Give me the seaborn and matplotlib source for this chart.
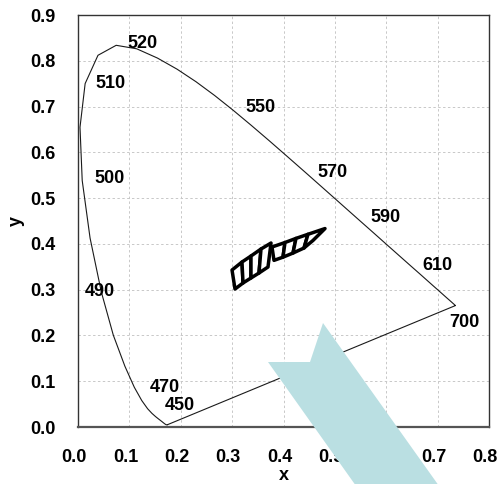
import numpy as np
import pandas as pd
import matplotlib
matplotlib.use("Agg")
import matplotlib.pyplot as plt
from matplotlib.patches import Polygon
from matplotlib.transforms import ScaledTranslation
import seaborn as sns

# CIE 1931 spectral locus (380-700 nm, 5 nm steps)
wavelengths = list(range(380, 705, 5))
locus_x = [0.1741, 0.1740, 0.1738, 0.1736, 0.1733, 0.1730, 0.1726, 0.1721, 0.1714, 0.1703,
           0.1689, 0.1669, 0.1644, 0.1611, 0.1566, 0.1510, 0.1440, 0.1355, 0.1241, 0.1096,
           0.0913, 0.0687, 0.0454, 0.0235, 0.0082, 0.0039, 0.0139, 0.0389, 0.0743, 0.1142,
           0.1547, 0.1929, 0.2296, 0.2658, 0.3016, 0.3373, 0.3731, 0.4087, 0.4441, 0.4788,
           0.5125, 0.5448, 0.5752, 0.6029, 0.6270, 0.6482, 0.6658, 0.6801, 0.6915, 0.7006,
           0.7079, 0.7140, 0.7190, 0.7230, 0.7260, 0.7283, 0.7300, 0.7311, 0.7320, 0.7327,
           0.7334, 0.7340, 0.7344, 0.7346, 0.7347]
locus_y = [0.0050, 0.0050, 0.0049, 0.0049, 0.0048, 0.0048, 0.0048, 0.0048, 0.0051, 0.0058,
           0.0069, 0.0086, 0.0109, 0.0138, 0.0177, 0.0227, 0.0297, 0.0399, 0.0578, 0.0868,
           0.1327, 0.2007, 0.2950, 0.4127, 0.5384, 0.6548, 0.7502, 0.8120, 0.8338, 0.8262,
           0.8059, 0.7816, 0.7543, 0.7243, 0.6923, 0.6589, 0.6245, 0.5896, 0.5547, 0.5202,
           0.4866, 0.4544, 0.4242, 0.3965, 0.3725, 0.3514, 0.3340, 0.3197, 0.3083, 0.2993,
           0.2920, 0.2859, 0.2809, 0.2770, 0.2740, 0.2717, 0.2700, 0.2689, 0.2680, 0.2673,
           0.2666, 0.2660, 0.2656, 0.2654, 0.2653]

# wavelength labels and where they sit
label_nm = ["520", "510", "550", "500", "570", "590", "610", "700", "490", "470", "450"]
label_x = [0.125, 0.064, 0.356, 0.062, 0.496, 0.598, 0.699, 0.753, 0.043, 0.169, 0.199]
label_y = [0.837, 0.751, 0.697, 0.542, 0.557, 0.457, 0.352, 0.229, 0.297, 0.087, 0.046]

# chromaticity bins: edges (top/bottom corner) of two chained groups
groupA_top_x = [0.2998, 0.3192, 0.3367, 0.3562, 0.3757]
groupA_top_y = [0.3429, 0.3604, 0.3735, 0.3888, 0.4019]
groupA_bot_x = [0.3056, 0.3212, 0.3367, 0.3523, 0.3698]
groupA_bot_y = [0.3014, 0.3146, 0.3255, 0.3364, 0.3495]
groupB_top_x = [0.3776, 0.4029, 0.4243, 0.4477, 0.4808]
groupB_top_y = [0.3932, 0.4030, 0.4120, 0.4210, 0.4335]
groupB_bot_x = [0.3815, 0.3990, 0.4185, 0.4399, 0.4574]
groupB_bot_y = [0.3640, 0.3710, 0.3800, 0.3910, 0.4075]

x_ticks = [0.0, 0.1, 0.2, 0.3, 0.4, 0.5, 0.6, 0.7, 0.8]
y_ticks = [0.0, 0.1, 0.2, 0.3, 0.4, 0.5, 0.6, 0.7, 0.8, 0.9]

sns.set_style("white")
plt.rcParams["font.family"] = ["Liberation Sans", "DejaVu Sans"]
plt.rcParams["font.weight"] = "bold"
plt.rcParams["text.color"] = "black"
plt.rcParams["axes.labelcolor"] = "black"
plt.rcParams["xtick.color"] = "black"
plt.rcParams["ytick.color"] = "black"

fig = plt.figure(figsize=(4.99, 4.84), dpi=100)
ax = fig.add_axes([78 / 499, 1 - 427 / 484, (489 - 78) / 499, (427 - 15) / 484])

df = pd.DataFrame({"x": locus_x + [locus_x[0]], "y": locus_y + [locus_y[0]]})
sns.lineplot(data=df, x="x", y="y", sort=False, estimator=None, color="#1a1a1a",
             linewidth=0.8, ax=ax, zorder=3)

for lab, lx, ly in zip(label_nm, label_x, label_y):
    ax.text(lx, ly, lab, ha="center", va="center", fontsize=13, fontweight="bold",
            color="black", zorder=4)

def draw_group(tx, ty, bx, by):
    for i in range(len(tx) - 1):
        pts = [(tx[i], ty[i]), (tx[i + 1], ty[i + 1]), (bx[i + 1], by[i + 1]), (bx[i], by[i])]
        ax.add_patch(Polygon(pts, closed=True, facecolor="white", edgecolor="black",
                             linewidth=2.5, joinstyle="round", zorder=5))

draw_group(groupA_top_x, groupA_top_y, groupA_bot_x, groupA_bot_y)
draw_group(groupB_top_x, groupB_top_y, groupB_bot_x, groupB_bot_y)

ax.set_xlim(0, 0.8)
ax.set_ylim(0, 0.9)
ax.set_xticks(x_ticks)
ax.set_yticks(y_ticks)
ax.set_xticklabels([f"{v:.1f}" for v in x_ticks])
ax.set_yticklabels([f"{v:.1f}" for v in y_ticks])
ax.grid(True, color="#c8c8c8", linestyle=(0, (2.5, 2.5)), linewidth=0.7, zorder=0)
ax.set_axisbelow(True)
ax.tick_params(axis="both", direction="in", length=4, width=0.8, color="#333333",
               labelsize=13, pad=16, labelcolor="black")
shift = ScaledTranslation(-4 / 100, 0, fig.dpi_scale_trans)
for lbl in ax.get_xticklabels():
    lbl.set_fontweight("bold")
    lbl.set_transform(lbl.get_transform() + shift)
for lbl in ax.get_yticklabels():
    lbl.set_fontweight("bold")
for sp in ax.spines.values():
    sp.set_visible(True)
    sp.set_color("#333333")
    sp.set_linewidth(1.0)
ax.spines["bottom"].set_color("#555555")
ax.spines["bottom"].set_linewidth(1.6)
ax.set_xlabel("x", fontsize=13, fontweight="bold", color="black")
ax.xaxis.set_label_coords(0.5, (427 - 480) / 412)
ax.xaxis.label.set_verticalalignment("baseline")
ax.set_ylabel("y", fontsize=13, fontweight="bold", labelpad=4, color="black")

# overlaid pointer arrow (figure pixels)
arrow_px = [(268, 362), (310, 362), (323, 323), (449, 500), (366, 500)]
arrow_fig = [(px / 499, 1 - py / 484) for px, py in arrow_px]
fig.add_artist(Polygon(arrow_fig, closed=True, transform=fig.transFigure,
                       facecolor="#badfe2", edgecolor="none", zorder=10))

fig.savefig("out.png", dpi=100)
